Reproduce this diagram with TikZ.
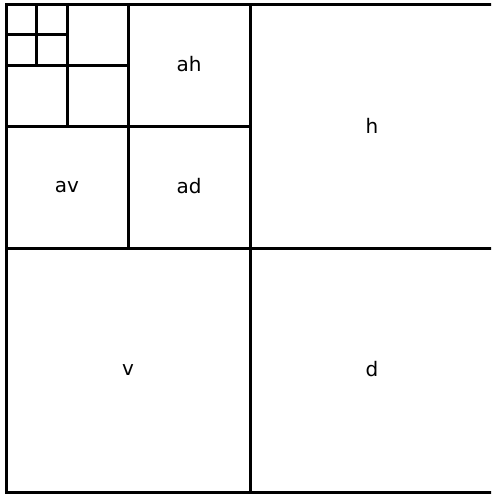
\documentclass[tikz,border=0pt]{standalone}
\usepackage{fontspec}
\setmainfont{DejaVu Sans}
\begin{document}
\begin{tikzpicture}[x=1pt,y=-1pt,
  grid/.style={line width=3pt,line cap=rect},
  lbl/.style={font=\fontsize{20}{24}\selectfont,inner sep=0pt}]
\useasboundingbox (0,0) rectangle (491,495);
\begin{scope}
\clip (0,0) rectangle (491,495);
\draw[grid] (6,4.5) rectangle (494,492.5);
\draw[grid] (250,4.5) -- (250,492.5);
\draw[grid] (6,248.5) -- (494,248.5);
\draw[grid] (128,4.5) -- (128,248.5);
\draw[grid] (6,126.5) -- (250,126.5);
\draw[grid] (67,4.5) -- (67,126.5);
\draw[grid] (6,65.5) -- (128,65.5);
\draw[grid] (36.5,4.5) -- (36.5,65.5);
\draw[grid] (6,35) -- (67,35);
\end{scope}
\node[lbl] (ah) at (189,64) {ah};
\node[lbl] (h) at (372,125.5) {h};
\node[lbl] (av) at (67,187.5) {av};
\node[lbl] (ad) at (189,186) {ad};
\node[lbl] (v) at (128,370.5) {v};
\node[lbl] (d) at (372,369) {d};
\end{tikzpicture}
\end{document}
